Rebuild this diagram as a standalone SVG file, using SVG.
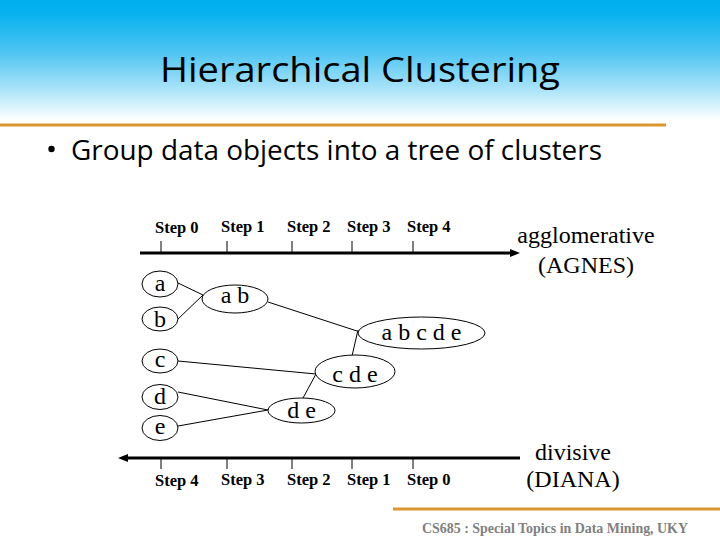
<svg xmlns="http://www.w3.org/2000/svg" width="720" height="540" viewBox="0 0 720 540">
  <defs>
    <linearGradient id="hdr" x1="0" y1="0" x2="0" y2="1">
      <stop offset="0" stop-color="#00aeef"/>
      <stop offset="0.12" stop-color="#08b2ef"/>
      <stop offset="0.45" stop-color="#52c6f2"/>
      <stop offset="0.75" stop-color="#ace4f9"/>
      <stop offset="1" stop-color="#ffffff"/>
    </linearGradient>
    <marker id="arr" markerUnits="userSpaceOnUse" markerWidth="10" markerHeight="8" refX="6" refY="4" orient="auto">
      <path d="M0,0 L10,4 L0,8 z" fill="#000"/>
    </marker>
    <style>
      .node ellipse { fill: #fff; stroke: #000; stroke-width: 1; }
      .node text { font-family: "Liberation Serif", "Times New Roman", serif; font-size: 24px; fill: #000; text-anchor: middle; }
      .edge { stroke: #000; stroke-width: 1; fill: none; }
      .axis { stroke: #000; stroke-width: 3; fill: none; }
      .tick { stroke: #000; stroke-width: 1; }
      .step { font-family: "Liberation Serif", "Times New Roman", serif; font-size: 16.5px; font-weight: bold; fill: #000; }
      .side { font-family: "Liberation Serif", "Times New Roman", serif; font-size: 24px; fill: #000; text-anchor: middle; }
    </style>
  </defs>

  <!-- header -->
  <rect x="0" y="0" width="720" height="120" fill="url(#hdr)"/>
  <text x="360" y="82" font-family="'Open Sans', sans-serif" font-size="35" fill="#000" text-anchor="middle" textLength="400" lengthAdjust="spacingAndGlyphs">Hierarchical Clustering</text>
  <line x1="0" y1="125" x2="666" y2="125" stroke="#d9972e" stroke-width="3"/>

  <!-- bullet -->
  <circle cx="51.5" cy="149" r="3.2" fill="#000"/>
  <text x="71" y="160" font-family="'Open Sans', sans-serif" font-size="27" fill="#000" textLength="531" lengthAdjust="spacingAndGlyphs">Group data objects into a tree of clusters</text>

  <!-- axes -->
  <g id="axes">
    <line class="axis" x1="140" y1="253" x2="516" y2="253" marker-end="url(#arr)"/>
    <line class="axis" x1="520" y1="458" x2="122" y2="458" marker-end="url(#arr)"/>
    <g class="tick">
      <line x1="161" y1="241" x2="161" y2="253"/>
      <line x1="227" y1="241" x2="227" y2="253"/>
      <line x1="292" y1="241" x2="292" y2="253"/>
      <line x1="352" y1="241" x2="352" y2="253"/>
      <line x1="413" y1="241" x2="413" y2="253"/>
      <line x1="161" y1="458" x2="161" y2="469"/>
      <line x1="227" y1="458" x2="227" y2="469"/>
      <line x1="292" y1="458" x2="292" y2="469"/>
      <line x1="352" y1="458" x2="352" y2="469"/>
      <line x1="413" y1="458" x2="413" y2="469"/>
    </g>
    <text class="step" x="155" y="233">Step 0</text>
    <text class="step" x="221" y="232">Step 1</text>
    <text class="step" x="287" y="232">Step 2</text>
    <text class="step" x="347" y="232">Step 3</text>
    <text class="step" x="407" y="232">Step 4</text>
    <text class="step" x="155" y="486">Step 4</text>
    <text class="step" x="221" y="485">Step 3</text>
    <text class="step" x="287" y="485">Step 2</text>
    <text class="step" x="347" y="485">Step 1</text>
    <text class="step" x="407" y="485">Step 0</text>
  </g>

  <text class="side" x="586" y="243">agglomerative</text>
  <text class="side" x="586" y="273">(AGNES)</text>
  <text class="side" x="573" y="460">divisive</text>
  <text class="side" x="573" y="487">(DIANA)</text>

  <!-- connectors -->
  <g id="connectors">
    <line class="edge" x1="178" y1="283" x2="203" y2="295"/>
    <line class="edge" x1="178" y1="319" x2="203" y2="295"/>
    <line class="edge" x1="268" y1="302" x2="357" y2="331"/>
    <line class="edge" x1="352" y1="356" x2="358" y2="330"/>
    <line class="edge" x1="178" y1="361" x2="316" y2="374"/>
    <line class="edge" x1="303" y1="398" x2="316" y2="374"/>
    <line class="edge" x1="178" y1="392" x2="268" y2="410"/>
    <line class="edge" x1="178" y1="426" x2="268" y2="410"/>
  </g>

  <!-- nodes -->
  <g id="node-a" class="node"><ellipse cx="160" cy="284" rx="18" ry="13"/><text x="160" y="291">a</text></g>
  <g id="node-b" class="node"><ellipse cx="160" cy="319" rx="18" ry="12"/><text x="160" y="327">b</text></g>
  <g id="node-c" class="node"><ellipse cx="160" cy="361" rx="18" ry="12"/><text x="160" y="367">c</text></g>
  <g id="node-d" class="node"><ellipse cx="160" cy="397" rx="18" ry="12.5"/><text x="160" y="404">d</text></g>
  <g id="node-e" class="node"><ellipse cx="160" cy="428" rx="18" ry="12.5"/><text x="160" y="434">e</text></g>
  <g id="node-ab" class="node"><ellipse cx="235" cy="299" rx="33" ry="14"/><text x="235" y="303">a b</text></g>
  <g id="node-abcde" class="node"><ellipse cx="421.5" cy="333" rx="63.5" ry="16"/><text x="421.5" y="340">a b c d e</text></g>
  <g id="node-cde" class="node"><ellipse cx="355" cy="371.5" rx="40" ry="16.5"/><text x="355" y="382">c d e</text></g>
  <g id="node-de" class="node"><ellipse cx="301.5" cy="410.5" rx="33.5" ry="12.5"/><text x="301.5" y="418">d e</text></g>

  <!-- footer -->
  <line x1="393" y1="509" x2="720" y2="509" stroke="#d9972e" stroke-width="3"/>
  <text x="422" y="533" font-family="'Liberation Serif', 'Times New Roman', serif" font-size="14" font-weight="bold" fill="#7f7f7f" textLength="266" lengthAdjust="spacingAndGlyphs">CS685 : Special Topics in Data Mining, UKY</text>
</svg>
